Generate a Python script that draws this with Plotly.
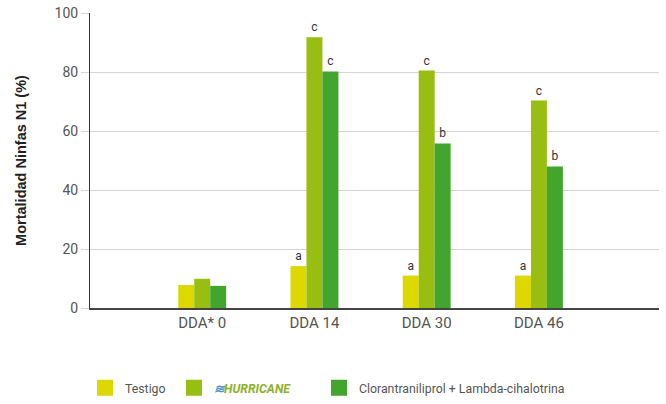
import plotly.graph_objects as go

categories = ["DDA* 0", "DDA 14", "DDA 30", "DDA 46"]
testigo = [7.8, 14.2, 11.0, 11.0]
hurricane = [9.9, 91.8, 80.5, 70.3]
cloran = [7.5, 80.2, 55.8, 48.0]
testigo_labels = ["", "a", "a", "a"]
hurricane_labels = ["", "c", "c", "c"]
cloran_labels = ["", "c", "b", "b"]
colors = ["#dcd800", "#97be10", "#42a62e"]
y_ticks = [0, 20, 40, 60, 80, 100]
legend_names = [
    "Testigo",
    "<b><i><span style='color:#4a90c8'>≋</span><span style='color:#8fb02a'>HURRICANE</span></i></b>",
    "Clorantraniliprol + Lambda-cihalotrina",
]

fig = go.Figure()
data = [testigo, hurricane, cloran]
labels = [testigo_labels, hurricane_labels, cloran_labels]
legend_ids = ["legend", "legend2", "legend3"]
for vals, lab, col, lid, nm in zip(data, labels, colors, legend_ids, legend_names):
    fig.add_trace(go.Bar(
        x=categories, y=vals, name=nm, marker=dict(color=col, line=dict(width=0)),
        text=lab, textposition="outside", cliponaxis=False,
        textfont=dict(size=12, color="#333333", family="Roboto"),
        showlegend=False,
    ))
    # legend entry with a larger square swatch
    fig.add_trace(go.Scatter(
        x=[None], y=[None], mode="markers", name=nm,
        marker=dict(symbol="square", size=16, color=col),
        legend=lid, showlegend=True,
    ))

legend_common = dict(orientation="h", yanchor="middle", y=0.04, xanchor="left",
                     xref="container", yref="container",
                     font=dict(size=12.3, color="#555555", family="Roboto"),
                     bgcolor="rgba(0,0,0,0)", itemclick=False, itemsizing="trace")
fig.update_layout(
    width=666, height=404,
    margin=dict(l=90, r=7, t=13, b=96, autoexpand=False),
    paper_bgcolor="white", plot_bgcolor="white",
    barmode="group", bargap=0.573, bargroupgap=0,
    font=dict(family="Roboto", color="#555555"),
    legend=dict(x=85 / 666, **legend_common),
    legend2=dict(x=174 / 666, **legend_common),
    legend3=dict(x=319 / 666, **legend_common),
    xaxis=dict(
        range=[-1, 4.07], showline=True, linecolor="#444444", linewidth=1.5,
        ticks="", tickfont=dict(size=15, color="#555555", family="Roboto"),
        showgrid=False, fixedrange=True,
    ),
    yaxis=dict(
        range=[0, 100], tickvals=y_ticks, showline=True, linecolor="#333333", linewidth=1,
        showgrid=True, gridcolor="#d4d4d4", gridwidth=1,
        ticks="outside", ticklen=8, tickcolor="#d4d4d4",
        tickfont=dict(size=14, color="#555555", family="Roboto"),
        zeroline=False,
        title=dict(text="<b>Mortalidad Ninfas N1 (%)</b>", font=dict(size=14.5, color="#222222", family="Liberation Sans"), standoff=24),
    ),
    showlegend=True,
)
fig.write_html("out.html", post_script="document.body.style.margin='0';",
               config={"displayModeBar": False})
